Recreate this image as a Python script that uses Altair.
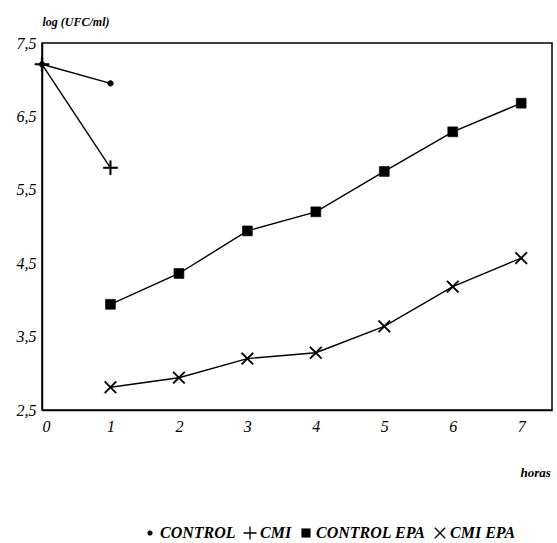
import altair as alt
import pandas as pd

# Bacterial counts, log10 (UFC/ml), sampled hourly
hours = [0, 1, 2, 3, 4, 5, 6, 7]
series_names = ["CONTROL", "CMI", "CONTROL EPA", "CMI EPA"]
control = [7.21, 6.95]
cmi = [7.21, 5.80]
control_epa = [None, 3.94, 4.36, 4.94, 5.20, 5.75, 6.29, 6.68]
cmi_epa = [None, 2.81, 2.94, 3.20, 3.28, 3.64, 4.18, 4.57]

rows = []
for name, vals in zip(series_names, [control, cmi, control_epa, cmi_epa]):
    for h, v in zip(hours, vals):
        if v is not None:
            rows.append({"horas": h, "logufc": v, "serie": name})
df = pd.DataFrame(rows)

serif = "Liberation Serif"
# marker outlines in the unit square, drawn as filled shapes so that
# they render the same in the plot and in the legend
dot_path = "M-0.4,0A0.4,0.4 0 1,0 0.4,0A0.4,0.4 0 1,0 -0.4,0Z"
plus_path = "M-1,-0.1H-0.1V-1H0.1V-0.1H1V0.1H0.1V1H-0.1V0.1H-1Z"
square_path = "M-0.7,-0.7H0.7V0.7H-0.7Z"
x_path = ("M-0.73,-0.87L0.87,0.73L0.73,0.87L-0.87,-0.73Z"
          "M0.87,-0.73L-0.73,0.87L-0.87,0.73L0.73,-0.87Z")

x_enc = alt.X(
    "horas:Q",
    scale=alt.Scale(domain=[0, 7.45], nice=False, zero=False),
    axis=alt.Axis(
        values=hours, format="d", ticks=False, grid=False, labelPadding=8,
        labelFont=serif, labelFontSize=16, labelFontStyle="italic",
        labelColor="black", domainColor="black", domainWidth=1.5,
        title="horas", titleFont=serif, titleFontSize=13,
        titleFontStyle="italic", titleFontWeight="bold",
        titleAnchor="start", titleAlign="left", titleX=478, titleY=56,
    ),
)
y_enc = alt.Y(
    "logufc:Q",
    scale=alt.Scale(domain=[2.5, 7.5], nice=False, zero=False),
    axis=alt.Axis(
        values=[2.5, 3.5, 4.5, 5.5, 6.5, 7.5], ticks=False, grid=False,
        labelPadding=6, labelExpr="replace(format(datum.value, '.1f'), '.', ',')",
        labelFont=serif, labelFontSize=16, labelFontStyle="italic",
        labelColor="black", domainColor="black", domainWidth=1.5,
        title="log (UFC/ml)", titleFont=serif, titleFontSize=12,
        titleFontStyle="italic", titleFontWeight="bold", titleAngle=0,
        titleAlign="left", titleBaseline="bottom", titleX=0, titleY=-15,
    ),
)

lines = alt.Chart(df).mark_line(color="black", strokeWidth=1.4).encode(
    x=x_enc, y=y_enc, detail="serie:N"
)

points = alt.Chart(df).mark_point(
    filled=True, fill="black", stroke="black", strokeWidth=0.6,
    opacity=1, size=200,
).encode(
    x="horas:Q",
    y="logufc:Q",
    shape=alt.Shape(
        "serie:N",
        sort=series_names,
        scale=alt.Scale(domain=series_names,
                        range=[dot_path, plus_path, square_path, x_path]),
        legend=alt.Legend(
            title=None, orient="none", direction="horizontal",
            legendX=100, legendY=482, columns=4, columnPadding=6,
            labelFont=serif, labelFontSize=16, labelFontStyle="italic",
            labelFontWeight="bold", labelColor="black", labelOffset=2,
            symbolFillColor="black", symbolStrokeColor="black",
            symbolStrokeWidth=0.6, symbolSize=170,
        ),
    ),
)

chart = (
    alt.layer(lines, points)
    .properties(
        width=510, height=367,
        autosize=alt.AutoSizeParams(type="none"),
        padding={"left": 42, "top": 43, "right": 5, "bottom": 133},
        background="white",
    )
    .configure_view(stroke="black", strokeWidth=1.5)
)

chart.save("out.html", embed_options={"renderer": "svg", "actions": False})
